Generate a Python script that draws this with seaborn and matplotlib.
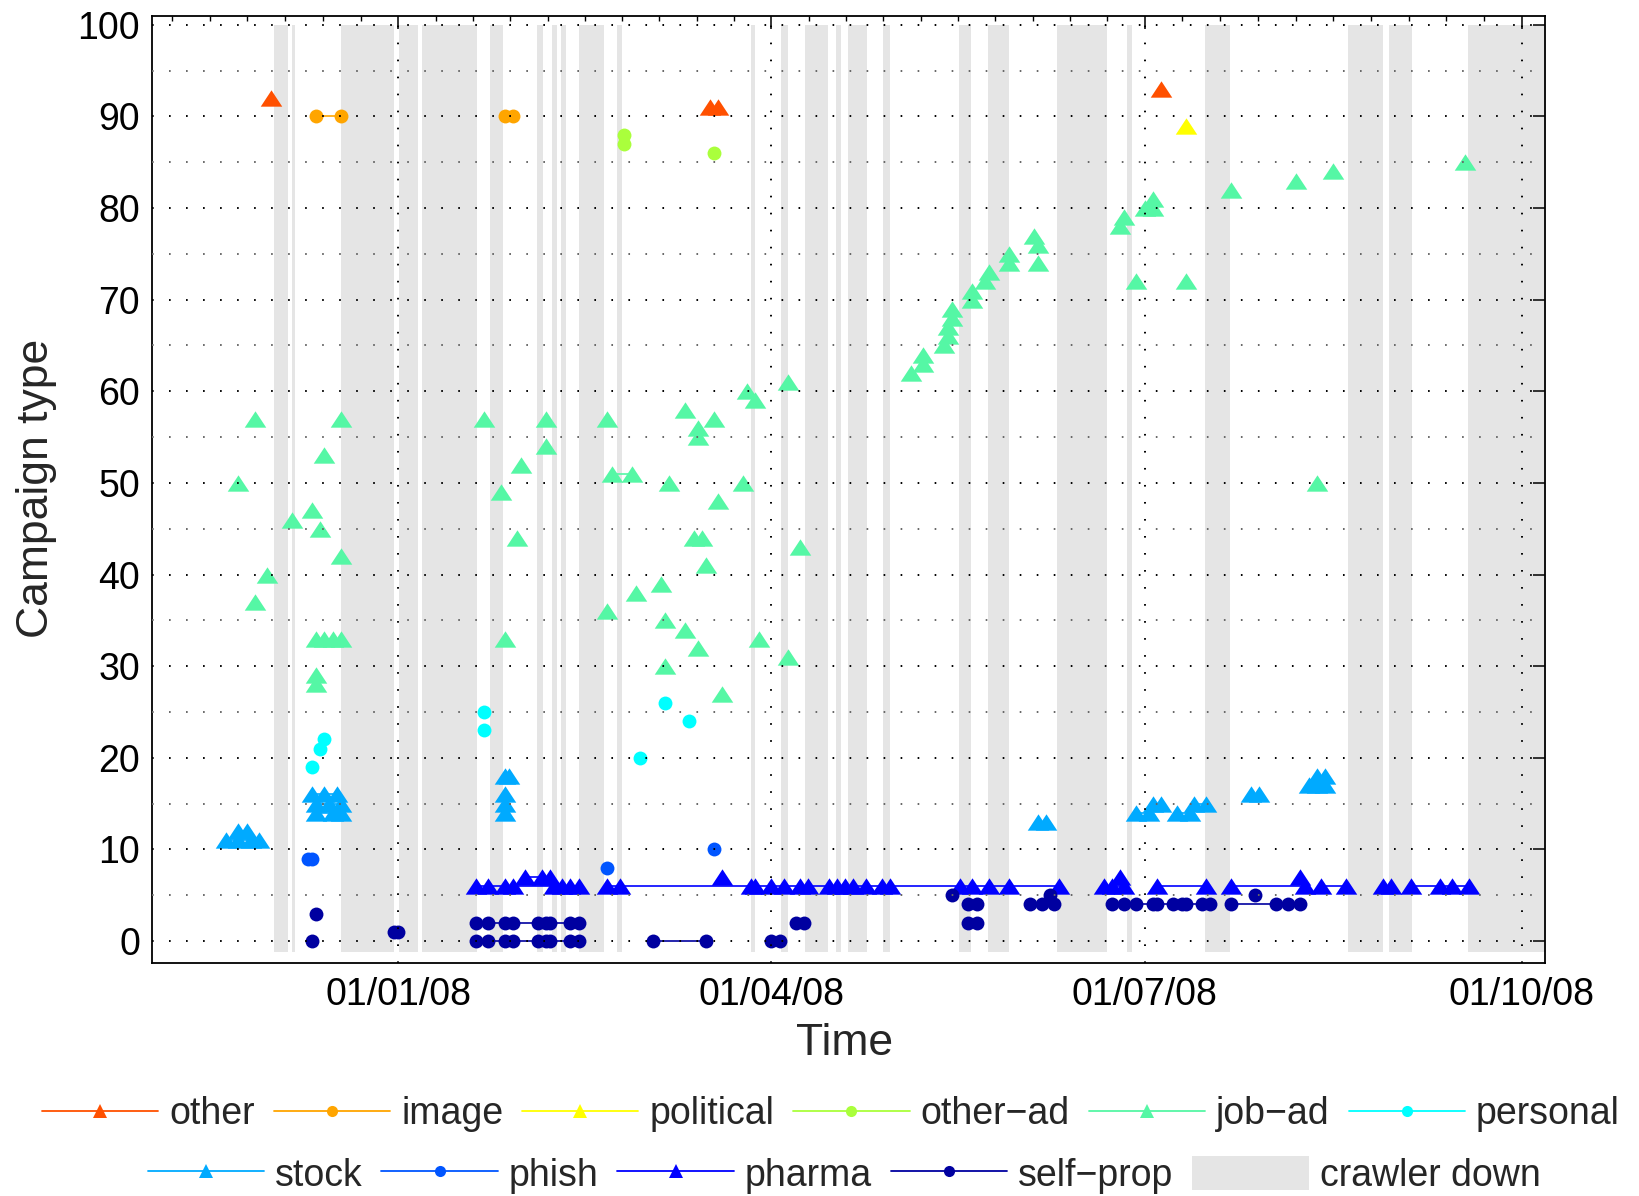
import numpy as np
import pandas as pd
import matplotlib
matplotlib.use("Agg")
import matplotlib.pyplot as plt
import matplotlib.dates as mdates
from matplotlib.lines import Line2D
from matplotlib.patches import Patch
import seaborn as sns

# all dates are given as days since 1 Jan 2008
BASE = pd.Timestamp("2008-01-01")

# each campaign: (campaign type value, [days seen])
other = [(92, [-31]), (91, [76, 78]), (93, [186])]
image = [(90, [-20, -14]), (90, [26, 28])]
political = [(89, [192])]
other_ad = [(88, [55]), (87, [55]), (86, [77])]
job_ad = [
    (50, [-39]), (57, [-35]), (37, [-35]), (40, [-32]), (46, [-26]), (47, [-21]),
    (45, [-19]), (53, [-18]), (57, [-14]), (42, [-14]), (29, [-20]), (28, [-20]),
    (33, [-20, -18, -16, -14]),
    (57, [21]), (49, [25]), (33, [26]), (44, [29]), (52, [30]), (57, [36]), (54, [36]),
    (57, [51]), (36, [51]), (51, [52, 57]), (38, [58]), (39, [64]), (35, [65]),
    (30, [65]), (50, [66]), (58, [70]), (34, [70]), (44, [72, 74]), (32, [73]),
    (56, [73]), (55, [73]), (41, [75]), (57, [77]), (48, [78]), (27, [79]),
    (50, [84]), (60, [85]), (59, [87]), (33, [88]), (61, [95]), (31, [95]), (43, [98]),
    (62, [125]), (64, [128]), (63, [128]), (65, [133]), (66, [134]), (67, [134]),
    (68, [135]), (69, [135]), (70, [140]), (71, [140]), (72, [143]), (73, [144]),
    (74, [149]), (75, [149]), (77, [155]), (76, [156]), (74, [156]),
    (78, [176]), (79, [177]), (72, [180]), (80, [182, 184]), (81, [184]), (72, [192]),
    (82, [203]), (83, [219]), (50, [224]), (84, [228]), (85, [260]),
]
personal = [(19, [-21]), (21, [-19]), (22, [-18]), (25, [21]), (23, [21]),
            (20, [59]), (26, [65]), (24, [71])]
stock = [
    (11, [-42, -39, -36, -34]), (12, [-39, -37]), (16, [-21, -18, -15]),
    (15, [-20, -17, -14]), (14, [-20, -16, -14]),
    (18, [26, 27]), (16, [26]), (15, [26]), (14, [26]),
    (13, [156, 158]), (14, [180, 183]), (14, [190, 193]), (15, [184, 186]),
    (15, [194, 197]), (16, [208, 210]), (17, [222, 224, 226]), (18, [224, 226]),
]
phish = [(9, [-22, -21]), (8, [51]), (10, [77])]
pharma = [
    (6, [19, 22, 26, 28, 38, 40, 42, 44]),
    (6, [51, 54, 86, 87, 91, 94, 98, 100, 105, 107, 109, 111, 114, 118, 120,
         137, 140, 144, 149, 161]),
    (7, [31, 35, 37]), (7, [79]),
    (6, [172, 174, 177]), (7, [176]),
    (6, [185, 197]), (6, [203, 221]), (7, [220]), (6, [225, 231]),
    (6, [240, 242]), (6, [247, 254, 257, 261]),
]
self_prop = [
    (0, [-21]), (3, [-20]), (1, [-1, 0]),
    (2, [19, 22, 26, 28, 34, 36, 37, 42, 44]),
    (0, [19, 22, 26, 28, 34, 36, 37, 42, 44]),
    (0, [62, 75]), (0, [91, 93]), (2, [97, 99]),
    (5, [135]), (4, [139, 141]), (2, [139, 141]),
    (4, [154, 157, 160]), (5, [159]),
    (4, [174, 177, 180, 184, 185, 189, 191, 192, 196, 198]),
    (5, [209]), (4, [203, 214, 217, 220]),
]

# crawler outages (days since 1 Jan 2008)
down_start = [-30.2, -26.0, -14.0, 0.2, 5.8, 22.3, 33.9, 37.6, 39.6, 44.0, 53.4,
              85.9, 93.4, 99.2, 106.7, 109.7, 118.2, 136.8, 143.9, 160.7, 177.6,
              196.8, 231.5, 241.6, 260.9]
down_end = [-27.0, -25.1, -1.0, 4.8, 19.2, 25.5, 35.2, 38.6, 40.8, 50.2, 54.6,
            87.1, 95.0, 104.7, 108.0, 114.2, 119.9, 139.7, 149.0, 172.9, 178.8,
            202.8, 240.1, 247.1, 282.0]

labels = ["other", "image", "political", "other\u2212ad", "job\u2212ad", "personal",
          "stock", "phish", "pharma", "self\u2212prop"]
series = [other, image, political, other_ad, job_ad, personal,
          stock, phish, pharma, self_prop]
colors = ["#ff5000", "#ffa500", "#ffff00", "#aaff3c", "#55f7a5", "#00ffff",
          "#00aaff", "#0055ff", "#0000ff", "#0000a0"]
shapes = ["tri", "dot", "tri", "dot", "tri", "dot", "tri", "dot", "tri", "dot"]

tri = [(-1, -0.76), (1, -0.76), (0, 0.76), (-1, -0.76)]

sns.set_style("white")
plt.rcParams["font.family"] = ["Liberation Sans", "DejaVu Sans"]

fig = plt.figure(figsize=(16.39, 11.96), dpi=100)
ax = fig.add_axes([0.0927, 0.1948, 0.8499, 0.7921])

# crawler down spans
for s, e in zip(down_start, down_end):
    ax.fill_between([BASE + pd.Timedelta(days=s), BASE + pd.Timedelta(days=e)],
                    -1.2, 100, color="#e5e5e5", lw=0, zorder=0.5)

for name, camps, c, shp in zip(labels, series, colors, shapes):
    rows = []
    for k, (val, days) in enumerate(camps):
        for d in days:
            rows.append({"campaign": k, "date": BASE + pd.Timedelta(days=d), "type": val})
    df = pd.DataFrame(rows)
    if shp == "tri":
        mk, ms = tri, 15.5
    else:
        mk, ms = "o", 10
    sns.lineplot(data=df, x="date", y="type", units="campaign", estimator=None,
                 color=c, marker=mk, markersize=ms, markeredgewidth=0,
                 lw=1.2, ax=ax, legend=False, zorder=2)

# axes styling
ax.set_xlim(BASE - pd.Timedelta(days=60.06), BASE + pd.Timedelta(days=279.6))
ax.set_ylim(-2.4, 101)

majors = pd.to_datetime(["2007-10-01", "2008-01-01", "2008-04-01",
                         "2008-07-01", "2008-10-01", "2009-01-01"])
mnum = mdates.date2num(majors)
minors = np.concatenate([np.linspace(a, b, 11)[1:-1] for a, b in zip(mnum[:-1], mnum[1:])])
ax.xaxis.set_major_locator(matplotlib.ticker.FixedLocator(mnum[1:5]))
ax.xaxis.set_minor_locator(matplotlib.ticker.FixedLocator(minors))
ax.xaxis.set_major_formatter(mdates.DateFormatter("%d/%m/%y"))
ax.yaxis.set_major_locator(matplotlib.ticker.MultipleLocator(10))
ax.yaxis.set_minor_locator(matplotlib.ticker.MultipleLocator(5))

ax.tick_params(which="both", direction="in", top=True, right=True, colors="k",
               labelsize=27)
ax.tick_params(which="major", length=9, width=1.1)
ax.tick_params(axis="x", which="minor", length=3.5, width=1.0)
ax.tick_params(axis="y", which="minor", length=0)
ax.tick_params(axis="x", pad=10)
ax.tick_params(axis="y", pad=8.5)

for sp in ax.spines.values():
    sp.set_color("k")
    sp.set_linewidth(1.3)

ax.set_axisbelow(False)
ax.grid(which="major", axis="both", color="k", linestyle=(0, (0.85, 7.9)), lw=1.4)
ax.grid(which="minor", axis="y", color="0.4", linestyle=(0, (0.85, 7.9)), lw=1.4)

ax.set_xlabel("Time", fontsize=32, va="center")
ax.set_ylabel("Campaign type", fontsize=32, va="center")
ax.xaxis.set_label_coords(0.497, -0.0845)
ax.yaxis.set_label_coords(-0.0828, 0.501)

# legend in two rows
handles = []
for name, c, shp in zip(labels, colors, shapes):
    if shp == "tri":
        handles.append(Line2D([], [], color=c, lw=1.3, marker="^", markersize=10.5,
                              markeredgewidth=0))
    else:
        handles.append(Line2D([], [], color=c, lw=1.3, marker="o", markersize=8,
                              markeredgewidth=0))
down_patch = Patch(facecolor="#e5e5e5", edgecolor="none")

leg_kw = dict(loc="center", frameon=False, fontsize=27, handlelength=3.1,
              handletextpad=0.3, columnspacing=0.5, borderpad=0, borderaxespad=0)
leg1 = fig.legend(handles[:6], labels[:6], ncol=6, bbox_to_anchor=(0.507, 0.0686),
                  **leg_kw)
leg2 = fig.legend(handles[6:] + [down_patch], labels[6:] + ["crawler down"], ncol=5,
                  bbox_to_anchor=(0.515, 0.0176), handleheight=1.0, **leg_kw)

fig.savefig("out.png", dpi=100)
